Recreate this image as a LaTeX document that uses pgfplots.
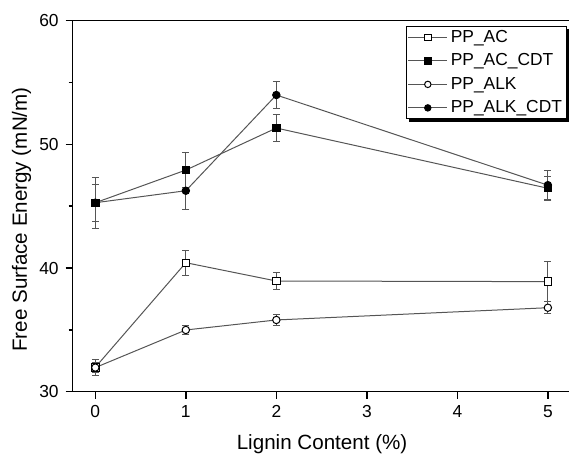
\documentclass[border=0pt]{standalone}
\usepackage{fontspec}
\setmainfont{Liberation Sans}
\usepackage{pgfplots}
\pgfplotsset{compat=1.18}
\definecolor{lncol}{RGB}{85,85,85}
\begin{document}
\begin{tikzpicture}
\useasboundingbox (-36.35pt,-31.15pt) rectangle (248.15pt,195.85pt);
\begin{axis}[at={(0,0)},anchor=south west,scale only axis,
width=248.9pt,height=185.5pt,
xmin=-0.25,xmax=5.25,ymin=30,ymax=60,
xtick={0,1,2,3,4,5},ytick={30,40,50,60},minor y tick num=1,
tick align=outside,xtick pos=left,ytick pos=left,
major tick length=3.5pt,minor tick length=2pt,
axis line style={line width=0.8pt},
every tick/.style={black,line width=0.8pt},
tick label style={font=\fontsize{8.7}{10}\selectfont},
/pgf/number format/assume math mode=true,
label style={font=\fontsize{10.3}{12}\selectfont},
xlabel={Lignin Content (\%)},
ylabel={Free Surface Energy (mN/m)},
xlabel style={at={(axis description cs:0.501,-0.141)},anchor=center},
ylabel style={at={(axis description cs:-0.103,0.464)},anchor=center},
legend cell align=left,
legend style={name=leg,at={(0.992,0.986)},anchor=north east,draw=black,line width=0.5pt,
  fill=white,font=\fontsize{8.7}{10}\selectfont,inner sep=0.5pt,row sep=1.75pt,
  nodes={inner xsep=1.5pt,inner ysep=0.5pt,text height=7pt,text depth=2pt}},
legend image code/.code={
  \draw[lncol,line width=0.5pt] (0pt,0pt) -- (19.5pt,0pt);
  \draw[#1,mark size=1.6pt] plot[only marks] coordinates {(9.75pt,0pt)};},
every axis plot/.append style={lncol,line width=0.5pt,mark size=1.85pt,
  error bars/y dir=both,error bars/y explicit,
  error bars/error bar style={lncol,line width=0.5pt,solid},
  error bars/error mark options={rotate=90,mark size=1.75pt,lncol,line width=0.5pt}},
]
\addplot[mark=square*,mark options={fill=white,draw=black,line width=0.5pt}] coordinates {
(0,31.97) +- (0,0.65) (1,40.43) +- (0,1.0) (2,38.95) +- (0,0.65) (5,38.9) +- (0,1.6)};
\addlegendentry{PP\_AC}
\addplot[mark=square*,mark options={fill=black,draw=black}] coordinates {
(0,45.28) +- (0,2.05) (1,47.92) +- (0,1.43) (2,51.32) +- (0,1.08) (5,46.45) +- (0,0.95)};
\addlegendentry{PP\_AC\_CDT}
\addplot[mark=*,mark options={fill=white,draw=black,line width=0.5pt}] coordinates {
(0,31.95) +- (0,0.4) (1,34.99) +- (0,0.4) (2,35.8) +- (0,0.45) (5,36.79) +- (0,0.5)};
\addlegendentry{PP\_ALK}
\addplot[mark=*,mark options={fill=black,draw=black}] coordinates {
(0,45.28) +- (0,1.5) (1,46.25) +- (0,1.5) (2,53.99) +- (0,1.1) (5,46.7) +- (0,1.15)};
\addlegendentry{PP\_ALK\_CDT}
\end{axis}
% drop shadow of the legend box
\fill[black] ([xshift=1.4pt,yshift=-1.4pt]leg.south west) rectangle ([xshift=1.4pt]leg.south east);
\fill[black] ([yshift=-1.4pt]leg.south east) rectangle ([xshift=1.4pt,yshift=-1.4pt]leg.north east);
\end{tikzpicture}
\end{document}
